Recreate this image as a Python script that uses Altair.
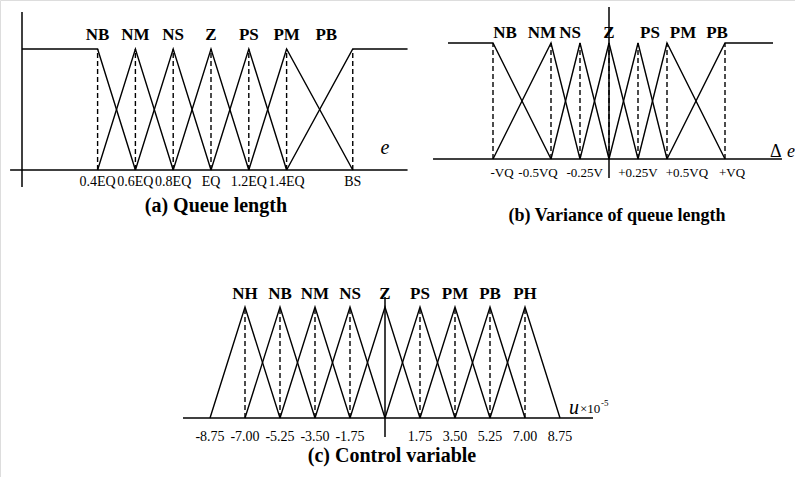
import altair as alt
import pandas as pd

FONT = "Liberation Serif"
LW = 1.4
W, H = 795, 477

# ---------------- Panel (a) Queue length ----------------
a_sets = ["NB", "NM", "NS", "Z", "PS", "PM", "PB"]
a_peaks = [0.4, 0.6, 0.8, 1.0, 1.2, 1.4, 1.75]
a_ticks = ["0.4EQ", "0.6EQ", "0.8EQ", "EQ", "1.2EQ", "1.4EQ", "BS"]
a_set_label_x = [0.4, 0.6, 0.8, 1.0, 1.2, 1.4, 1.61]
a_plateau = [0.0, 2.04]
a_haxis = [-0.063, 2.04]
a_vaxis = [-0.14, 1.306]

# ---------------- Panel (b) Variance of queue length ----------------
b_sets = ["NB", "NM", "NS", "Z", "PS", "PM", "PB"]
b_peaks = [-1.0, -0.5, -0.25, 0.0, 0.25, 0.5, 1.0]
b_ticks = ["-VQ", "-0.5VQ", "-0.25V", "+0.25V", "+0.5VQ", "+VQ"]
b_tick_x = [-0.922, -0.612, -0.21, 0.25, 0.672, 1.06]
b_set_label_x = [-0.897, -0.578, -0.336, 0.0, 0.353, 0.638, 0.931]
b_plateau = [-1.388, 1.414]
b_haxis = [-1.517, 1.491]
b_vaxis = [-0.164, 1.31]

# ---------------- Panel (c) Control variable ----------------
c_sets = ["NH", "NB", "NM", "NS", "Z", "PS", "PM", "PB", "PH"]
c_breaks = [-8.75, -7.00, -5.25, -3.50, -1.75, 0.0, 1.75, 3.50, 5.25, 7.00, 8.75]
c_ticks = ["-8.75", "-7.00", "-5.25", "-3.50", "-1.75", "", "1.75", "3.50", "5.25", "7.00", "8.75"]
c_haxis = [-10.1, 10.4]
c_vaxis = [-0.171, 1.09]

titles = ["(a) Queue length", "(b) Variance of queue length", "(c) Control variable"]


# ---------- layout helpers (pixel placement of each panel's own scale) ----------
def dom(origin_px, size_px, ppu, flip=False):
    if flip:
        return [-(size_px - origin_px) / ppu, origin_px / ppu]
    return [-origin_px / ppu, (size_px - origin_px) / ppu]


def shoulder_sets(names, peaks, plateau):
    rows = []
    n = len(names)
    for i, s in enumerate(names):
        if i == 0:
            pts = [(plateau[0], 1), (peaks[0], 1), (peaks[1], 0)]
        elif i == n - 1:
            pts = [(peaks[n - 2], 0), (peaks[n - 1], 1), (plateau[1], 1)]
        else:
            pts = [(peaks[i - 1], 0), (peaks[i], 1), (peaks[i + 1], 0)]
        for k, (x, m) in enumerate(pts):
            rows.append({"set": s, "k": k, "x": x, "mu": m})
    return pd.DataFrame(rows)


def triangle_sets(names, breaks):
    rows = []
    for i, s in enumerate(names):
        pts = [(breaks[i], 0), (breaks[i + 1], 1), (breaks[i + 2], 0)]
        for k, (x, m) in enumerate(pts):
            rows.append({"set": s, "k": k, "x": x, "mu": m})
    return pd.DataFrame(rows)


def panel(xdom, ydom, lines, dash_x, haxis, vaxis, vx, setlab, ticklab,
          tick_y, tick_size, setlab_y, texts, title, title_xy, title_size):
    sx = alt.Scale(domain=xdom, nice=False, zero=False)
    sy = alt.Scale(domain=ydom, nice=False, zero=False)

    def X(f):
        return alt.X(f"{f}:Q", scale=sx, axis=None)

    def Y(f):
        return alt.Y(f"{f}:Q", scale=sy, axis=None)

    layers = []
    axes = pd.DataFrame([
        {"x": haxis[0], "x2": haxis[1], "y": 0, "y2": 0},
        {"x": vx, "x2": vx, "y": vaxis[0], "y2": vaxis[1]},
    ])
    layers.append(alt.Chart(axes).mark_rule(color="black", strokeWidth=1.5).encode(
        x=X("x"), x2=alt.X2("x2"), y=Y("y"), y2=alt.Y2("y2")))
    dash = pd.DataFrame({"x": dash_x, "y0": [0] * len(dash_x), "y1": [1] * len(dash_x)})
    layers.append(alt.Chart(dash).mark_rule(color="black", strokeWidth=LW, strokeDash=[5, 3]).encode(
        x=X("x"), y=Y("y0"), y2=alt.Y2("y1")))
    layers.append(alt.Chart(lines).mark_line(color="black", strokeWidth=LW).encode(
        x=X("x"), y=Y("mu"), detail="set:N", order="k:Q"))
    sl = pd.DataFrame({"x": setlab[0], "label": setlab[1], "y": [setlab_y] * len(setlab[0])})
    layers.append(alt.Chart(sl).mark_text(font=FONT, fontSize=17, fontWeight="bold",
                                          baseline="middle", color="black").encode(
        x=X("x"), y=Y("y"), text="label:N"))
    tl = pd.DataFrame({"x": ticklab[0], "label": ticklab[1], "y": [tick_y] * len(ticklab[0])})
    layers.append(alt.Chart(tl).mark_text(font=FONT, fontSize=tick_size, baseline="middle",
                                          color="black").encode(
        x=X("x"), y=Y("y"), text="label:N"))
    for t in texts:
        df = pd.DataFrame([{"x": t["x"], "y": t["y"], "label": t["text"]}])
        kw = dict(font=FONT, fontSize=t["size"], color="black", align=t.get("align", "left"),
                  baseline=t.get("baseline", "alphabetic"))
        if t.get("italic"):
            kw["fontStyle"] = "italic"
        layers.append(alt.Chart(df).mark_text(**kw).encode(x=X("x"), y=Y("y"), text="label:N"))
    td = pd.DataFrame([{"x": title_xy[0], "y": title_xy[1], "label": title}])
    layers.append(alt.Chart(td).mark_text(font=FONT, fontSize=title_size, fontWeight="bold",
                                          baseline="middle", color="black").encode(
        x=X("x"), y=Y("y"), text="label:N"))
    return alt.layer(*layers)


# Panel (a): origin at x=22px, 189 px per EQ; mu 0 at y=170, 121 px per unit
pa = panel(
    dom(22, W, 189), dom(170, H, 121, flip=True),
    shoulder_sets(a_sets, a_peaks, a_plateau), a_peaks, a_haxis, a_vaxis, 0.0,
    (a_set_label_x, a_sets), (a_peaks, a_ticks), -0.1, 14, 1.116,
    [{"text": "e", "x": 1.92, "y": 0.182, "size": 20, "italic": True,
      "align": "center", "baseline": "middle"}],
    titles[0], (1.026, -0.298), 20)

# Panel (b): origin at x=609px, 116 px per VQ; mu 0 at y=159, 116 px per unit
pb = panel(
    dom(609, W, 116), dom(159, H, 116, flip=True),
    shoulder_sets(b_sets, b_peaks, b_plateau), b_peaks, b_haxis, b_vaxis, 0.0,
    (b_set_label_x, b_sets), (b_tick_x, b_ticks), -0.121, 13, 1.086,
    [{"text": "Δ", "x": 1.388, "y": 0.017, "size": 18},
     {"text": "e", "x": 1.534, "y": 0.017, "size": 18, "italic": True}],
    titles[1], (0.069, -0.491), 18)

# Panel (c): origin at x=385px, 20 px per unit; mu 0 at y=418, 111 px per unit
pc = panel(
    dom(385, W, 20), dom(418, H, 111, flip=True),
    triangle_sets(c_sets, c_breaks), [b for b in c_breaks[1:-1] if b != 0.0], c_haxis, c_vaxis, 0.0,
    (c_breaks[1:-1], c_sets), (c_breaks, c_ticks), -0.171, 14, 1.117,
    [{"text": "u", "x": 9.2, "y": 0.036, "size": 20, "italic": True},
     {"text": "×10", "x": 9.75, "y": 0.045, "size": 13},
     {"text": "-5", "x": 10.8, "y": 0.108, "size": 9}],
    titles[2], (0.35, -0.342), 20)

chart = alt.layer(pa, pb, pc).resolve_scale(x="independent", y="independent").properties(
    width=W, height=H, padding=0, autosize=alt.AutoSizeParams(type="none")
).configure_view(stroke=None).configure(background="white")

chart.save("out.html", embed_options={"renderer": "svg", "actions": False})
